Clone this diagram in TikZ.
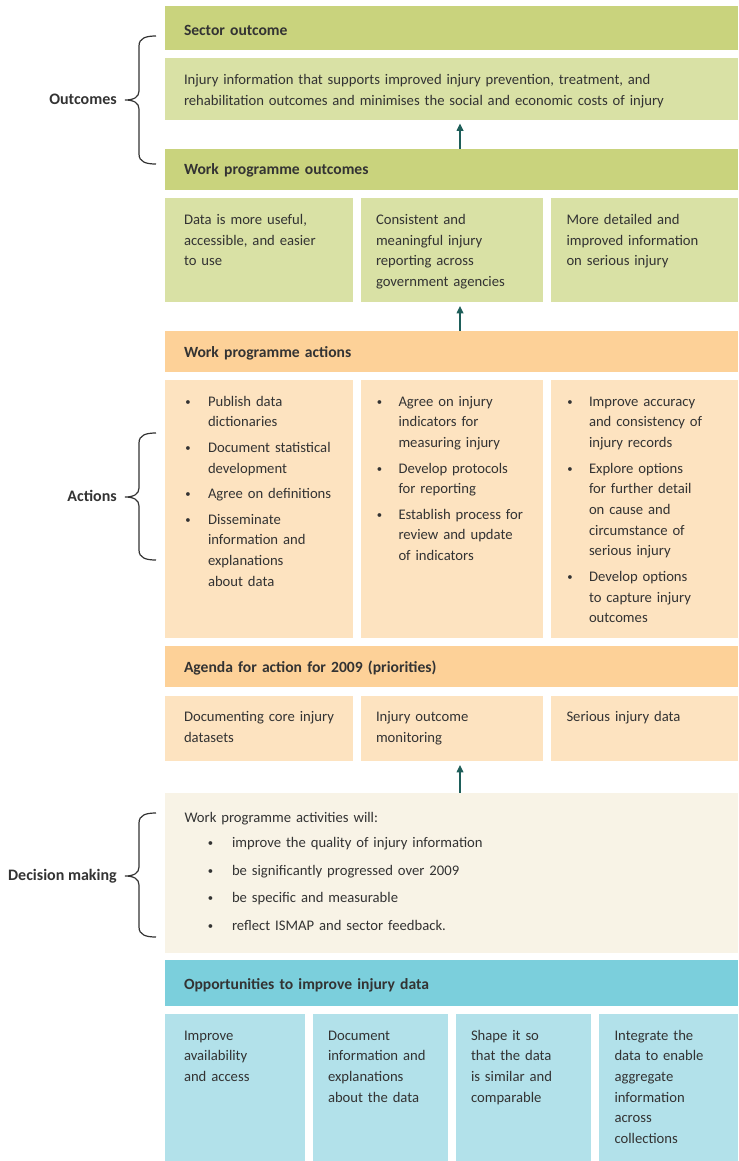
\documentclass[tikz,border=0pt]{standalone}
\usepackage{fontspec}
\setmainfont{Carlito}
\usetikzlibrary{arrows.meta}
\definecolor{hgreen}{HTML}{C9D37D}
\definecolor{lgreen}{HTML}{D9E1A5}
\definecolor{horange}{HTML}{FDD198}
\definecolor{lorange}{HTML}{FDE3C0}
\definecolor{cream}{HTML}{F8F3E6}
\definecolor{hteal}{HTML}{7BCFDC}
\definecolor{lteal}{HTML}{B2E1EA}
\definecolor{tx}{HTML}{333333}
\definecolor{arrc}{HTML}{1E5E5A}
\newcommand\bx[6]{\node[boxsty, fill=#6, minimum width={(#4-#2)*0.75pt}, minimum height={(#5-#3)*0.75pt}] (#1) at (#2,#3) {};}
\newcommand\mybrace[3]{\draw[bracesty] (156,#1) .. controls (146,#1) and (139,#1+2) .. (139,#1+10) -- (139,#2-9) .. controls (139,#2-3) and (134,#2) .. (125,#2) .. controls (134,#2) and (139,#2+3) .. (139,#2+9) -- (139,#3-10) .. controls (139,#3-2) and (146,#3) .. (156,#3);}
\newcommand\bdot{\raisebox{0.6pt}{\fontsize{8}{8}\selectfont•}}
\begin{document}
\begin{tikzpicture}[x=0.75pt,y=-0.75pt,
  boxsty/.style={anchor=north west, inner sep=0pt, outer sep=0pt, draw=none},
  txt/.style={anchor=base west, inner sep=0pt, outer sep=0pt, align=left, text width=400pt, text=tx, font=\fontsize{11}{15.5}\selectfont},
  hdr/.style={txt, font=\fontsize{11.7}{15.5}\selectfont\bfseries},
  lbl/.style={anchor=base east, inner sep=0pt, text=tx, font=\fontsize{12}{15.5}\selectfont\bfseries},
  bul/.style={anchor=base west, inner sep=0pt, text=tx},
  arr/.style={draw=arrc, line width=1.4pt*0.75, -{Triangle[length=5.5pt,width=5pt]}, shorten >=3pt},
  bracesty/.style={draw=tx, line width=0.9pt}
]
\useasboundingbox (0,0) rectangle (739,1161);
\coordinate (ax) at (460,0);
% boxes
\bx{so}{165}{5.5}{738}{50}{hgreen}
\bx{info}{165}{58}{738}{119.5}{lgreen}
\bx{wpo}{165}{148.5}{738}{190}{hgreen}
\bx{o1}{165}{198}{352.5}{302}{lgreen}
\bx{o2}{360.5}{198}{543}{302}{lgreen}
\bx{o3}{551}{198}{738}{302}{lgreen}
\bx{wpa}{165}{330.5}{738}{372}{horange}
\bx{a1}{165}{380}{352.5}{637.5}{lorange}
\bx{a2}{360.5}{380}{543}{637.5}{lorange}
\bx{a3}{551}{380}{738}{637.5}{lorange}
\bx{ag}{165}{646}{738}{687}{horange}
\bx{g1}{165}{696}{352.5}{761}{lorange}
\bx{g2}{360.5}{696}{543}{761}{lorange}
\bx{g3}{551}{696}{738}{761}{lorange}
\bx{dm}{165}{792.5}{738}{953}{cream}
\bx{op}{165}{959.5}{738}{1005.5}{hteal}
\bx{p1}{165}{1013.5}{304.5}{1161}{lteal}
\bx{p2}{312.5}{1013.5}{448}{1161}{lteal}
\bx{p3}{456}{1013.5}{591}{1161}{lteal}
\bx{p4}{599}{1013.5}{738}{1161}{lteal}
% arrows
\draw[arr] (wpo.north -| ax) -- (info.south -| ax);
\draw[arr] (wpa.north -| ax) -- (o2.south -| ax);
\draw[arr] (dm.north -| ax) -- (g2.south -| ax);
% braces and labels
\mybrace{36}{100}{164}
\mybrace{433}{497}{560}
\mybrace{813}{876}{937}
\node[lbl] (lout) at (117,104.5) {Outcomes};
\node[lbl] (lact) at (117,501.5) {Actions};
\node[lbl] (ldec) at (117,880.5) {Decision making};
% texts
\node[hdr] (tso) at (184,35) {Sector outcome};
\node[txt] (tinfo) at (184,84.5) {Injury information that supports improved injury prevention, treatment, and\\rehabilitation outcomes and minimises the social and economic costs of injury};
\node[hdr] (twpo) at (184,174.5) {Work programme outcomes};
\node[txt] (to1) at (184,224.5) {Data is more useful,\\accessible, and easier\\to use};
\node[txt] (to2) at (376,224.5) {Consistent and\\meaningful injury\\reporting across\\government agencies};
\node[txt] (to3) at (566.5,224.5) {More detailed and\\improved information\\on serious injury};
\node[hdr] (twpa) at (184,357.5) {Work programme actions};
% actions col 1
\node[bul] (b11) at (185,406) {\bdot};
\node[txt] (t11) at (208,406) {Publish data\\dictionaries};
\node[bul] (b12) at (185,452.5) {\bdot};
\node[txt] (t12) at (208,452.5) {Document statistical\\development};
\node[bul] (b13) at (185,498) {\bdot};
\node[txt] (t13) at (208,498) {Agree on definitions};
\node[bul] (b14) at (185,524) {\bdot};
\node[txt] (t14) at (208,524) {Disseminate\\information and\\explanations\\about data};
% actions col 2
\node[bul] (b21) at (376.5,406) {\bdot};
\node[txt] (t21) at (398.5,406) {Agree on injury\\indicators for\\measuring injury};
\node[bul] (b22) at (376.5,473) {\bdot};
\node[txt] (t22) at (398.5,473) {Develop protocols\\for reporting};
\node[bul] (b23) at (376.5,519) {\bdot};
\node[txt] (t23) at (398.5,519) {Establish process for\\review and update\\of indicators};
% actions col 3
\node[bul] (b31) at (567,406) {\bdot};
\node[txt] (t31) at (589,406) {Improve accuracy\\and consistency of\\injury records};
\node[bul] (b32) at (567,473) {\bdot};
\node[txt] (t32) at (589,473) {Explore options\\for further detail\\on cause and\\circumstance of\\serious injury};
\node[bul] (b33) at (567,581.5) {\bdot};
\node[txt] (t33) at (589,581.5) {Develop options\\to capture injury\\outcomes};
% agenda
\node[hdr] (tag) at (184,672.5) {Agenda for action for 2009 (priorities)};
\node[txt] (tg1) at (184,721.5) {Documenting core injury\\datasets};
\node[txt] (tg2) at (376,721.5) {Injury outcome\\monitoring};
\node[txt] (tg3) at (566.5,721.5) {Serious injury data};
% decision making
\node[txt] (tdm) at (184.5,822) {Work programme activities will:};
\node[bul] (bd1) at (207.5,847.5) {\bdot};
\node[txt] (td1) at (232,847.5) {improve the quality of injury information};
\node[bul] (bd2) at (207.5,875) {\bdot};
\node[txt] (td2) at (232,875) {be significantly progressed over 2009};
\node[bul] (bd3) at (207.5,902.5) {\bdot};
\node[txt] (td3) at (232,902.5) {be specific and measurable};
\node[bul] (bd4) at (207.5,930.5) {\bdot};
\node[txt] (td4) at (232,930.5) {reflect ISMAP and sector feedback.};
% opportunities
\node[hdr] (top) at (184,989.5) {Opportunities to improve injury data};
\node[txt] (tp1) at (184,1040) {Improve\\availability\\and access};
\node[txt] (tp2) at (328,1040) {Document\\information and\\explanations\\about the data};
\node[txt] (tp3) at (471,1040) {Shape it so\\that the data\\is similar and\\comparable};
\node[txt] (tp4) at (614.5,1040) {Integrate the\\data to enable\\aggregate\\information\\across\\collections};
\end{tikzpicture}
\end{document}
